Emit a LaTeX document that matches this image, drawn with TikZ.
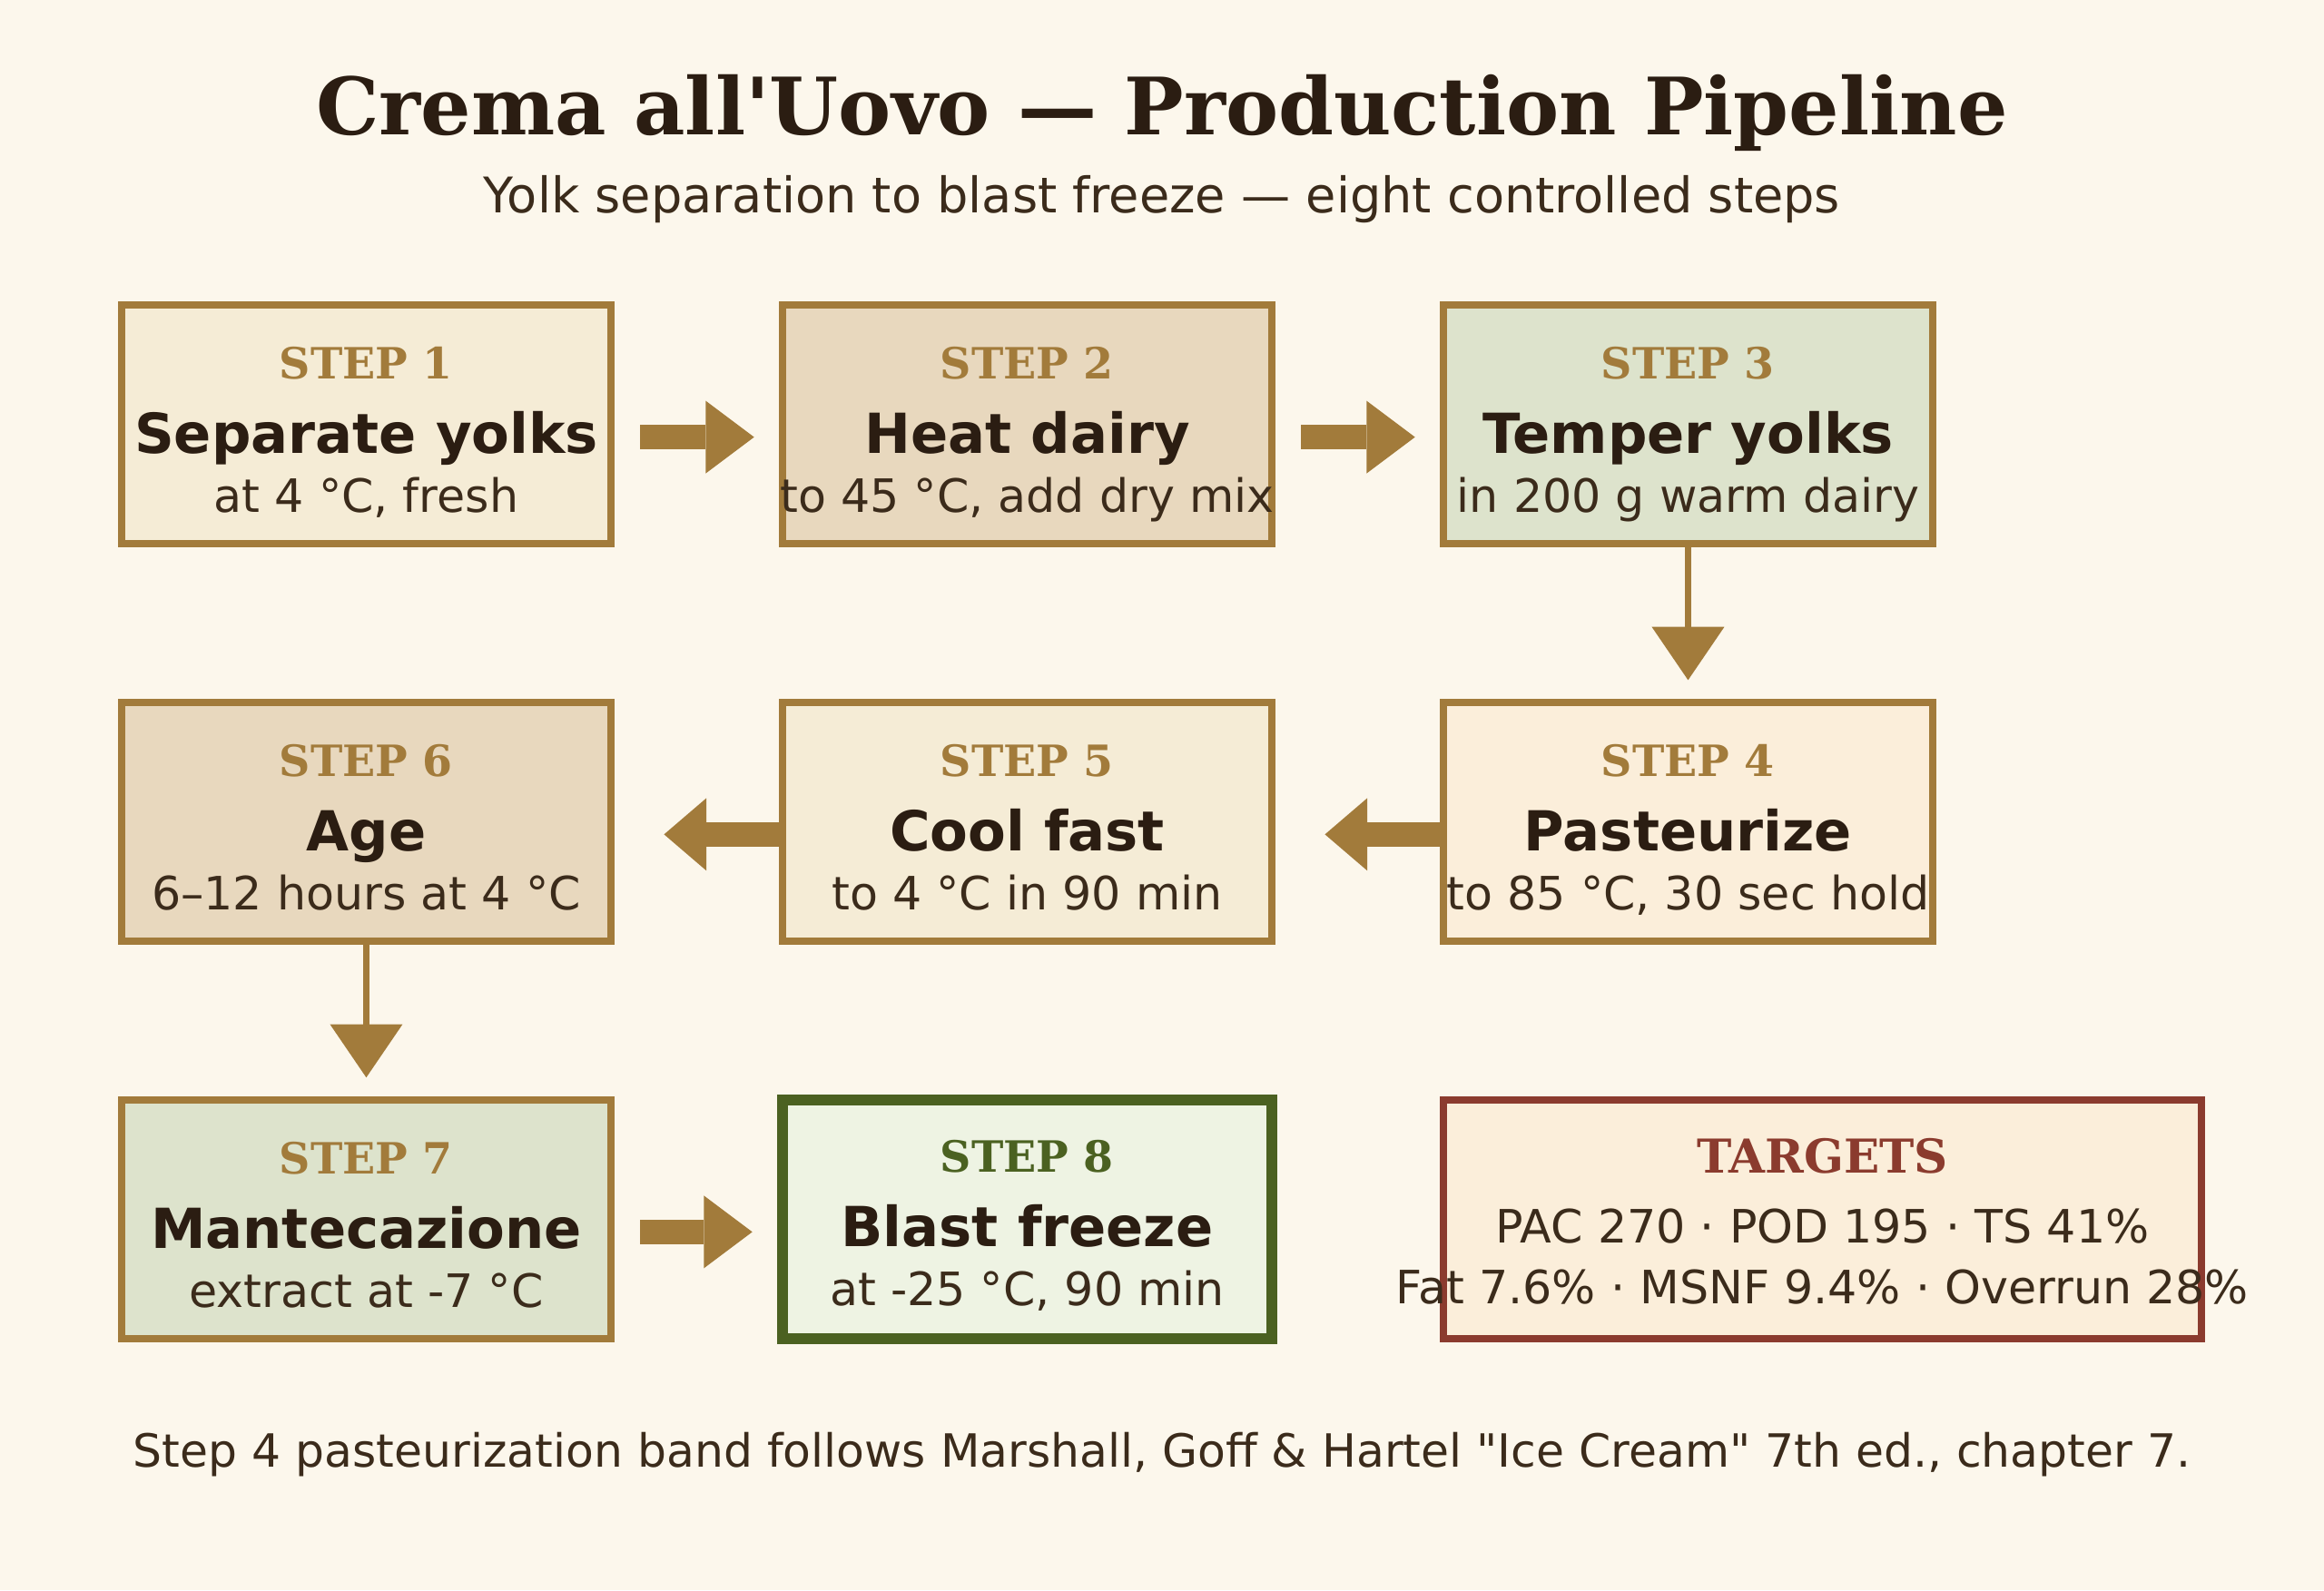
\documentclass[tikz,border=0pt]{standalone}
\usepackage{fontspec}
\setmainfont{DejaVu Sans}
\newfontfamily\seriffont{DejaVu Serif}
\usetikzlibrary{arrows.meta,calc}
\definecolor{bg}{HTML}{FCF7EC}
\definecolor{brn}{HTML}{A27B3B}
\definecolor{grn}{HTML}{4B6121}
\definecolor{rd}{HTML}{8B3B2E}
\definecolor{ink}{HTML}{2B1D12}
\definecolor{ink2}{HTML}{3B2B1B}
\definecolor{fa}{HTML}{F5ECD6}
\definecolor{fb}{HTML}{E8D8BE}
\definecolor{fc}{HTML}{DDE3CC}
\definecolor{fd}{HTML}{FBEEDA}
\definecolor{fe}{HTML}{EEF3E3}
\begin{document}
\begin{tikzpicture}[x=1pt,y=-1pt,
  box/.style={rectangle,draw=brn,line width=3pt,minimum width=202pt,minimum height=98.6pt,inner sep=0pt},
  lab/.style={anchor=base,inner sep=0pt,text=brn,font=\seriffont\bfseries\fontsize{17.8}{20}\selectfont},
  ttl/.style={anchor=base,inner sep=0pt,text=ink,font=\bfseries\fontsize{22.8}{26}\selectfont},
  sub/.style={anchor=base,inner sep=0pt,text=ink2,font=\fontsize{19}{23}\selectfont},
  rarrow/.style={draw=brn,line width=10pt,-{Triangle[length=20pt,width=30pt,line width=0pt]}},
  larrow/.style={draw=brn,line width=10pt,-{Triangle[length=17.5pt,width=30pt,line width=0pt]}},
  darrow/.style={draw=brn,line width=2.6pt,-{Triangle[length=22pt,width=30pt,line width=0pt]}}]
\fill[bg] (0,0) rectangle (960,657);
\useasboundingbox (0,0) rectangle (960,657);
% title
\node[anchor=base,inner sep=0pt,text=ink,font=\seriffont\bfseries\fontsize{32.7}{38}\selectfont] (title) at (480,55.6) {Crema all\textquotesingle Uovo — Production Pipeline};
\node[anchor=base,inner sep=0pt,text=ink2,font=\fontsize{20.3}{24}\selectfont] (subtitle) at (480,88) {Yolk separation to blast freeze — eight controlled steps};
% boxes
\node[box,fill=fa] (b1) at (151.3,175.4) {};
\node[box,fill=fb] (b2) at (424.3,175.4) {};
\node[box,fill=fc] (b3) at (697.3,175.4) {};
\node[box,fill=fd] (b4) at (697.3,339.6) {};
\node[box,fill=fa] (b5) at (424.3,339.6) {};
\node[box,fill=fb] (b6) at (151.3,339.6) {};
\node[box,fill=fc] (b7) at (151.3,503.8) {};
\node[box,fill=fe,draw=grn,line width=4.5pt] (b8) at (424.3,503.8) {};
\node[box,fill=fd,draw=rd,minimum width=313pt] (tg) at (752.8,503.8) {};
% texts
\foreach \b/\n/\t/\s in {b1/1/Separate yolks/{at 4 °C, fresh},
                          b2/2/Heat dairy/{to 45 °C, add dry mix},
                          b3/3/Temper yolks/{in 200 g warm dairy},
                          b4/4/Pasteurize/{to 85 °C, 30 sec hold},
                          b5/5/Cool fast/{to 4 °C in 90 min},
                          b6/6/Age/{6–12 hours at 4 °C},
                          b7/7/Mantecazione/{extract at -7 °C}}{
  \node[lab] (\b l) at ($(\b.north)+(0,32)$) {STEP \n};
  \node[ttl] (\b t) at ($(\b.north)+(0,62.7)$) {\t};
  \node[sub] (\b s) at ($(\b.north)+(0,87.2)$) {\s};
}
\node[lab,text=grn] (b8l) at ($(b8.north)+(0,32)$) {STEP 8};
\node[ttl] (b8t) at ($(b8.north)+(0,62.7)$) {Blast freeze};
\node[sub] (b8s) at ($(b8.north)+(0,87.2)$) {at -25 °C, 90 min};
\node[lab,text=rd,font=\seriffont\bfseries\fontsize{19.3}{22}\selectfont] (tgl) at ($(tg.north)+(0,31.5)$) {TARGETS};
\node[sub] (tg1) at ($(tg.north)+(0,60.5)$) {PAC 270 · POD 195 · TS 41\%};
\node[sub] (tg2) at ($(tg.north)+(0,85.5)$) {Fat 7.6\% · MSNF 9.4\% · Overrun 28\%};
% arrows
\draw[rarrow] ($(b1.east)+(10.6,5.2)$) -- ($(b2.west)+(-10.3,5.2)$);
\draw[rarrow] ($(b2.east)+(10.6,5.2)$) -- ($(b3.west)+(-10.3,5.2)$);
\draw[darrow] (b3.south) -- ($(b4.north)+(0,-7.8)$);
\draw[larrow] ($(b4.west)+(0,5.15)$) -- ($(b5.east)+(20.5,5.15)$);
\draw[larrow] ($(b5.west)+(0,5.15)$) -- ($(b6.east)+(20.5,5.15)$);
\draw[darrow] (b6.south) -- ($(b7.north)+(0,-7.8)$);
\draw[rarrow] ($(b7.east)+(10.6,5.2)$) -- ($(b8.west)+(-10.3,5.2)$);
% footer
\node[anchor=base,inner sep=0pt,text=ink2,font=\fontsize{18.9}{23}\selectfont] (foot) at (480,606) {Step 4 pasteurization band follows Marshall, Goff \& Hartel \textquotedbl Ice Cream\textquotedbl{} 7th ed., chapter 7.};
\end{tikzpicture}
\end{document}
